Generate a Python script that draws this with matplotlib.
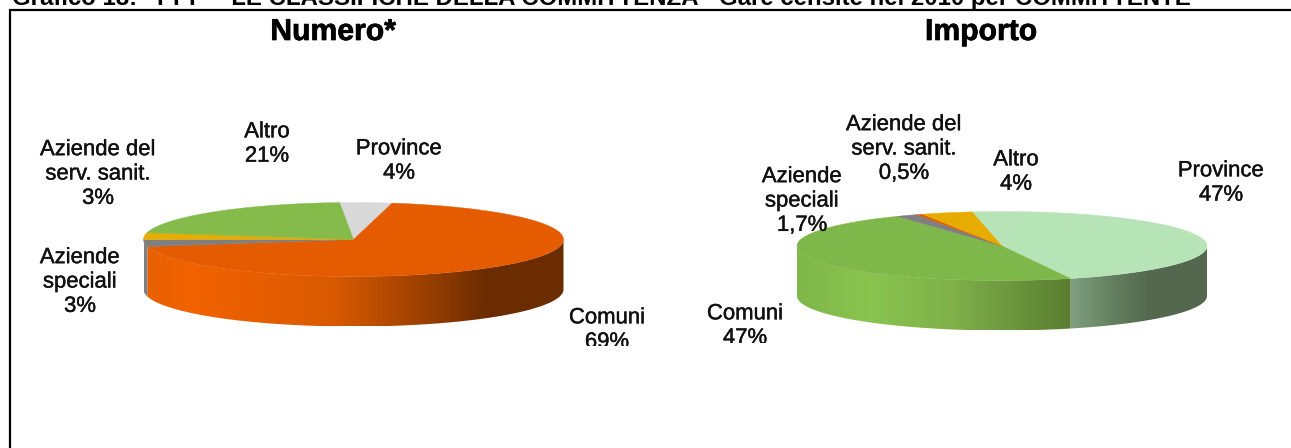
import numpy as np
import matplotlib
matplotlib.use("Agg")
import matplotlib.pyplot as plt
from matplotlib.colors import LinearSegmentedColormap
from matplotlib.patches import Polygon, Rectangle
import matplotlib.patheffects as pe

plt.rcParams['font.family'] = ['Liberation Sans', 'DejaVu Sans']

# ---- data ----
categories = ["Province", "Comuni", "Aziende speciali", "Aziende del serv. sanit.", "Altro"]
numero_values = [4, 69, 3, 3, 21]
importo_values = [47, 47, 1.7, 0.5, 4]
numero_labels = ["4%", "69%", "3%", "3%", "21%"]
importo_labels = ["47%", "47%", "1,7%", "0,5%", "4%"]
titles = ["Numero*", "Importo"]
heading = "Grafico 18:   PPP – LE CLASSIFICHE DELLA COMMITTENZA - Gare censite nel 2010 per COMMITTENTE"

# ---- styles ----
W, H = 1291, 448
fig = plt.figure(figsize=(W / 100, H / 100), dpi=100, facecolor="white")
ax = fig.add_axes([0, 0, 1, 1])
ax.set_xlim(0, W)
ax.set_ylim(H, 0)
ax.axis("off")


def draw_pie(values, start, cx, cy, rx, ry, depth, top_colors, side_stops):
    total = sum(values)
    edges = start + np.cumsum([0] + list(values)) * 360 / total
    ex = lambda a: cx + rx * np.sin(np.radians(a))
    ey = lambda a: cy - ry * np.cos(np.radians(a))
    for i in range(len(values)):
        a0, a1 = max(edges[i], 90), min(edges[i + 1], 270)
        if a1 > a0:
            a = np.linspace(a0, a1, 120)
            xs = np.r_[ex(a), ex(a[::-1])]
            ys = np.r_[ey(a), ey(a[::-1]) + depth]
            clip = Polygon(np.c_[xs, ys], closed=True, transform=ax.transData, fc="none", ec="none")
            ax.add_patch(clip)
            cmap = LinearSegmentedColormap.from_list("s", side_stops[i])
            grad = np.linspace(0, 1, 512)[None, :]
            im = ax.imshow(grad, cmap=cmap, vmin=0, vmax=1, aspect="auto", zorder=2,
                           extent=[cx - rx, cx + rx, cy + ry + depth, cy - ry], interpolation="bilinear")
            im.set_clip_path(clip)
    for i in range(len(values)):
        a = np.linspace(edges[i], edges[i + 1], 240)
        xs = np.r_[cx, ex(a)]
        ys = np.r_[cy, ey(a)]
        ax.add_patch(Polygon(np.c_[xs, ys], closed=True, fc=top_colors[i], ec=top_colors[i], lw=0.3, zorder=3))
    ax.set_xlim(0, W)
    ax.set_ylim(H, 0)


orange_side = [(0.0, "#e86000"), (0.12, "#f26200"), (0.45, "#d95a00"), (0.65, "#a04200"), (0.82, "#6a2c00"), (1.0, "#6a2c00")]
green_side = [(0.0, "#7fb74a"), (0.18, "#89c44f"), (0.38, "#7fb04a"), (0.67, "#5a7d30"), (1.0, "#5a7d30")]
pale_side = [(0.0, "#7f9f80"), (0.67, "#7f9f80"), (0.77, "#64805f"), (0.86, "#53684f"), (1.0, "#53684f")]
grey_side = [(0, "#808080"), (1, "#808080")]

draw_pie(numero_values, -3.8, 353.5, 239.5, 210, 37, 50,
         ["#d9d9d9", "#e55c00", "#7f7f7f", "#e6ac00", "#84bb4a"],
         [grey_side, orange_side, grey_side, grey_side, grey_side])
draw_pie(importo_values, -8.4, 1002, 246, 205, 34.5, 50,
         ["#b7e4b7", "#7fb84a", "#7f7f7f", "#e55c00", "#e6ac00"],
         [pale_side, green_side, grey_side, grey_side, grey_side])

# frame
ax.plot([10, 10, W + 5], [H + 5, 10, 10], color="black", lw=1.6, zorder=5, solid_joinstyle="miter")

# heading, cut by the top of the image
ax.text(12, 5.5, heading, fontsize=17.3, fontweight="bold", ha="left", va="baseline", color="black", zorder=6)

# titles
for t, x in zip(titles, [333, 981]):
    tx = ax.text(x, 32, t, fontsize=21.7, fontweight="bold", ha="center", va="center", color="black", zorder=6)
    tx.set_path_effects([pe.withStroke(linewidth=0.5, foreground="black")])


# labels
def label(x, y, name, val, clip_y):
    tx = ax.text(x, y, name + "\n" + val, fontsize=15.9, ha="center", va="center", color="#111111",
                 linespacing=1.21, zorder=6, clip_on=True)
    tx.set_clip_path(Rectangle((0, 0), W, clip_y, transform=ax.transData))
    tx.set_path_effects([pe.withStroke(linewidth=0.3, foreground="#111111")])


def name_lines(i):
    return {"Aziende speciali": "Aziende\nspeciali",
            "Aziende del serv. sanit.": "Aziende del\nserv. sanit."}.get(categories[i], categories[i])


num_pos = [(399, 161), (607, 330), (80, 282), (98, 174), (267, 144)]
imp_pos = [(1221, 183), (745, 326), (802, 201), (904, 149), (1016, 172)]
for i in range(5):
    label(*num_pos[i], name_lines(i), numero_labels[i], 346.5)
    label(*imp_pos[i], name_lines(i), importo_labels[i], 343.5)

fig.savefig("out.png", dpi=100, facecolor="white")
